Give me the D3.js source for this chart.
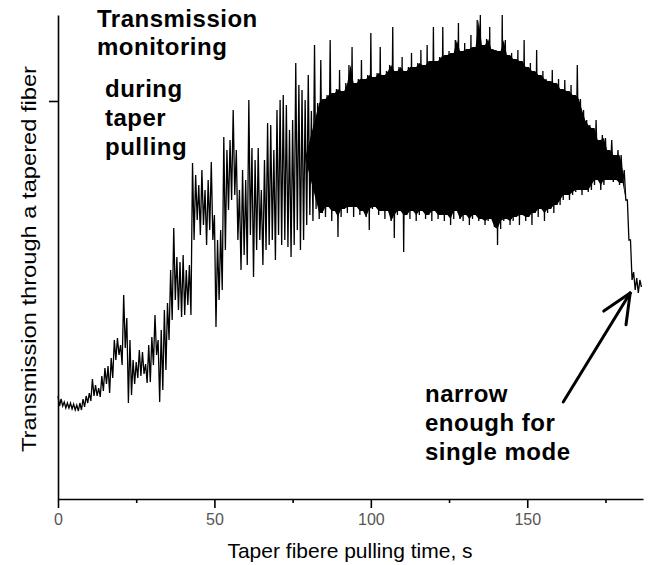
<!DOCTYPE html>
<html>
<head>
<meta charset="utf-8">
<title>Transmission through a tapered fiber</title>
<script src="https://d3js.org/d3.v7.min.js"></script>
<style>
  body { margin: 0; background: #fff; }
  svg { display: block; }
  .axis path, .axis line { stroke: #000; stroke-width: 1.6; }
  .axis text { font-family: "Liberation Sans Narrow", "Arial Narrow", "Liberation Sans", Arial, sans-serif; font-size: 16px; fill: #555; }
  .label { font-family: "Liberation Sans", Arial, sans-serif; font-size: 21px; fill: #000; }
  .note { font-family: "Liberation Sans", Arial, sans-serif; font-size: 24px; font-weight: bold; letter-spacing: 0.5px; fill: #000; }
  .trace { fill: none; stroke: #000; stroke-width: 1.3; }
</style>
</head>
<body>
<svg width="648" height="565"></svg>
<script>
// transmission envelope per second (arbitrary units): max and min reading in each 1 s slot
const upper = [25.75,25,24.25,24,24,23.75,23.5,24,25,25.75,
  26.5,30,28.5,27.75,30.75,32.75,33.25,35.25,39.75,40.25,
  38.5,51,45.25,39.75,34.75,34.25,37.25,36.75,33.75,38.5,
  40.5,46,39.75,42.25,47.25,49,57.25,67.75,60.5,59.25,
  61,57.25,58.5,84,81,78.5,82.25,77.25,79.75,84.25,
  71,64.75,67.25,90.5,87.25,89.75,97.25,87.25,77.25,82.25,
  79.75,99.75,87.75,84.75,87.75,77.25,84.75,94,93.5,87.25,
  97.25,99.75,101,98.5,92.25,94.75,109,103.5,102.25,99.75,
  106,97,113.5,99,109.75,100,101,114.75,101.5,102.5,
  107.25,102,104,108.5,113,104,105,109.75,105,106,
  116.5,105.5,106.5,113,106,107,108.5,118,107,108,
  110.5,107,108,111.5,108,109,112.25,108.5,113.5,109.5,
  118,109.5,110.5,118,111,112,111.5,114.75,119,112,
  114,112.5,116,113,119.75,121,113.5,115,118,112.5,
  112.25,112,121,114.75,111,111.5,110,112.25,109.5,114.75,
  108,109,107,112.25,106,107,105,104.5,107.25,104,
  105,102.5,104.75,102,103.5,101,108.5,100,97.25,94.75,
  93.5,92.75,94.75,89.75,91,90.25,87.25,89.75,86,87.25,
  86,82.25,74.75,64.75,56.75,55.25,54.75];

const lower = [23.25,23.25,22.75,22.75,22.5,22.25,22,22.25,23,24,
  24.5,25.75,25.75,25.5,27,28.75,26.5,30.25,34.75,36,
  33.5,37.75,24,26,28.75,30.25,30.75,31.25,29,29.25,
  33.5,36,24.25,27.25,32.25,39.75,44.75,49.75,47.25,45.5,
  46,48.5,46,64.75,69.75,66,68.5,63.5,67.25,64.75,
  43,49.75,52.25,62.25,72.25,74.75,76,64.75,57.25,61,
  58.5,66,55.5,62.25,64.75,58.5,62.25,63.5,64.75,59.75,
  66,63.5,64.75,63,60.5,63.5,67.25,62.25,64.75,68.5,
  71,69.5,72.5,70,71.5,70.5,73,69.5,72,65.5,
  70.5,72.5,71.5,73,70.5,73,71,72,70.5,67.25,
  72.5,73,71,72,70,72,69.5,65.25,71,72,
  61.75,71,70,72,69.5,71,72,70,71,69.5,
  72,70,71,69.5,71,68.5,70,72,70,69.5,
  71,68.5,70,71,69.5,70,68.5,69.5,70,68,
  63.5,67.5,69.5,70,68.5,69.5,70.5,68.5,71,69.5,
  70.5,68.5,71.5,70.5,72.5,69.5,71.5,72.5,71.5,73.5,
  73.5,74.75,76,74.75,76,76.75,77.25,76,77.25,76.75,
  77.25,78.5,79.75,77.25,78.5,79.75,79.75,79.25,79.75,78.5,
  79,74.75,64.75,54.75,52.25,51.5,53];

const seconds = d3.range(upper.length); // 0 .. 186 s
const denseFrom = 83; // s, onset of the fast dense oscillation

const xTicks = [0, 50, 100, 150];
const xMinorTicks = [25, 75, 125, 175];
const yTicks = [99.5];

const xTitle = "Taper fibere pulling time, s";
const yTitle = "Transmission through a tapered fiber";
const noteTop = ["Transmission", "monitoring"];
const noteMid = ["during", "taper", "pulling"];
const noteLow = ["narrow", "enough for", "single mode"];
// arrow: tail and tip in data units (s, a.u.)
const arrowTail = [161.5, 24.25];
const arrowTip = [182.9, 51.5];

const svg = d3.select("svg");
const x = d3.scaleLinear().domain([0, 187]).range([58, 643]);
const y = d3.scaleLinear().domain([0, 121]).range([499, 15]);

// in the dense part the oscillation fills solid black: fill between the
// lower of two neighbouring maxima and the higher of two neighbouring minima
const band = seconds.filter(s => s >= denseFrom && s < seconds.length - 5).map(s =>
  [s + 0.5, Math.min(upper[s], upper[s + 1]), Math.max(lower[s], lower[s + 1])]);
// taper the onset so the band fades in from the trace
const mid0 = (band[0][1] + band[0][2]) / 2;
band.unshift([denseFrom - 4, mid0, mid0]);
svg.append("path")
  .datum(band)
  .attr("fill", "#000")
  .attr("d", d3.area().x(d => x(d[0])).y1(d => y(d[1])).y0(d => y(d[2])));

// signal: each slot drawn max -> min (zigzag)
const pts = [];
seconds.forEach((s, i) => {
  pts.push([s, upper[i]]);
  pts.push([s + 0.5, lower[i]]);
});
svg.append("path").attr("class", "trace")
  .attr("d", d3.line().x(d => x(d[0])).y(d => y(d[1]))(pts));

// axes
svg.append("g").attr("class", "axis")
  .attr("transform", "translate(0,499)")
  .call(d3.axisBottom(x).tickValues(xTicks).tickSize(9).tickSizeOuter(0).tickPadding(6));
svg.append("g").attr("class", "axis")
  .attr("transform", "translate(0,499)")
  .call(d3.axisBottom(x).tickValues(xMinorTicks).tickSize(4).tickSizeOuter(0).tickFormat(""))
  .select(".domain").remove();
svg.append("g").attr("class", "axis")
  .attr("transform", "translate(58,0)")
  .call(d3.axisLeft(y).tickValues(yTicks).tickSize(9).tickSizeOuter(0).tickFormat(""));

// titles
svg.append("text").attr("class", "label")
  .attr("x", 350).attr("y", 558)
  .attr("text-anchor", "middle")
  .text(xTitle);
svg.append("text").attr("class", "label")
  .attr("transform", "translate(36,259) rotate(-90)")
  .attr("text-anchor", "middle")
  .attr("textLength", 386)
  .attr("lengthAdjust", "spacingAndGlyphs")
  .text(yTitle);

// annotations
noteTop.forEach((t, i) => {
  svg.append("text").attr("class", "note").attr("x", 97).attr("y", 27 + i * 28).text(t);
});
noteMid.forEach((t, i) => {
  svg.append("text").attr("class", "note").attr("x", 105).attr("y", 97 + i * 29).text(t);
});
noteLow.forEach((t, i) => {
  svg.append("text").attr("class", "note").attr("x", 425).attr("y", 402 + i * 29).text(t);
});

// arrow
const tx = x(arrowTip[0]), ty = y(arrowTip[1]);
const bx = x(arrowTail[0]), by = y(arrowTail[1]);
const ang = Math.atan2(by - ty, bx - tx);
const arrow = svg.append("g").attr("stroke", "#000").attr("stroke-width", 3).attr("stroke-linecap", "round");
arrow.append("line").attr("x1", bx).attr("y1", by).attr("x2", tx).attr("y2", ty);
[-0.42, 0.42].forEach(da => {
  arrow.append("line")
    .attr("x1", tx).attr("y1", ty)
    .attr("x2", tx + 32 * Math.cos(ang + da))
    .attr("y2", ty + 32 * Math.sin(ang + da));
});
</script>
</body>
</html>
